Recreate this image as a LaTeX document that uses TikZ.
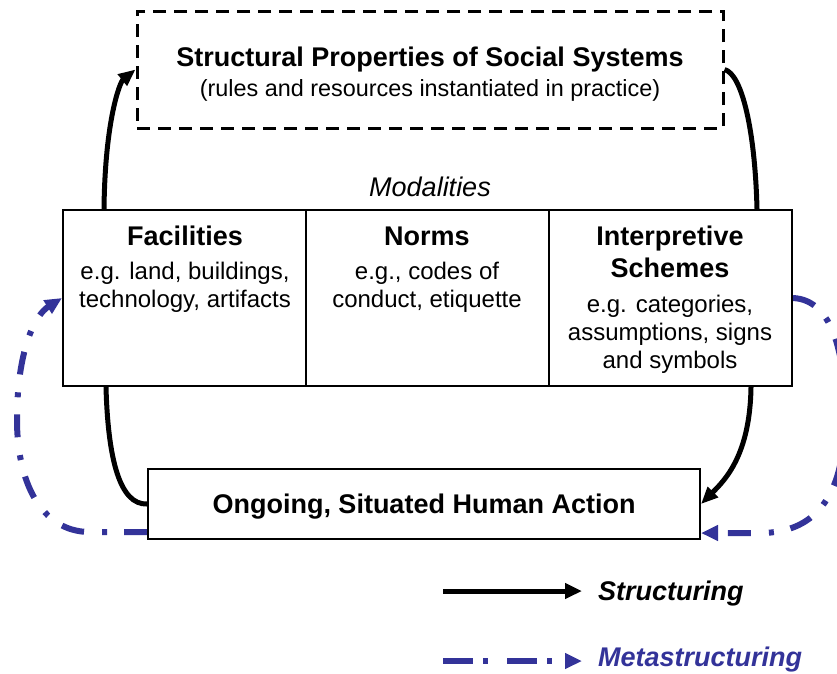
\documentclass[tikz,border=0pt]{standalone}
\usepackage{fontspec}
\setmainfont{Liberation Sans}
\usetikzlibrary{arrows.meta}
\definecolor{metablue}{RGB}{51,51,153}
\pgfdeclarelayer{background}
\pgfsetlayers{background,main}

\begin{document}
\begin{tikzpicture}[x=1pt,y=-1pt,
  headfont/.style={font=\fontsize{27}{32}\selectfont\bfseries},
  bodyfont/.style={font=\fontsize{24}{28}\selectfont},
  txt/.style={anchor=base, inner sep=0pt},
  cell/.style={draw=black, line width=2pt, fill=white, minimum width=243pt,
    minimum height=176pt, inner sep=0pt},
  framebox/.style={draw=black, line width=2pt, fill=white, inner sep=0pt},
  struct/.style={line width=5pt, -{Triangle[length=17pt,width=14pt]}},
  structline/.style={line width=5pt},
  meta/.style={draw=metablue, line width=6pt,
    dash pattern=on 23pt off 17pt on 5pt off 18pt,
    -{Triangle[length=17pt,width=15pt]}},
  metalegend/.style={draw=metablue, line width=6pt,
    dash pattern=on 30pt off 10pt on 5pt off 19pt,
    -{Triangle[length=17pt,width=15pt]}},
]
\useasboundingbox (0,0) rectangle (837,673);

% structural properties (dashed frame)
\node[framebox, line width=3pt, dash pattern=on 13pt off 8pt,
  minimum width=586pt, minimum height=117pt] (sps) at (430,69.5) {};
\node[txt, headfont] (spsT) at (430,66) {Structural Properties of Social Systems};
\node[txt, font=\fontsize{23.4}{28}\selectfont] (spsS) at (430,96) {(rules and resources instantiated in practice)};

% modalities
\node[txt, font=\fontsize{27}{32}\selectfont\itshape] (mod) at (430,196) {Modalities};
\node[cell] (fac) at (184.5,298) {};
\node[cell] (nor) at (427.5,298) {};
\node[cell] (int) at (670.5,298) {};

\node[txt, headfont] (facH) at (185,245) {Facilities};
\node[txt, bodyfont] (facA) at (185,279) {e.g. land, buildings,};
\node[txt, bodyfont] (facB) at (185,307) {technology, artifacts};

\node[txt, headfont] (norH) at (427,245) {Norms};
\node[txt, bodyfont] (norA) at (427,279) {e.g., codes of};
\node[txt, bodyfont] (norB) at (427,307) {conduct, etiquette};

\node[txt, headfont] (intH) at (670,245) {Interpretive};
\node[txt, headfont] (intH2) at (670,277) {Schemes};
\node[txt, bodyfont] (intA) at (670,312) {e.g. categories,};
\node[txt, bodyfont] (intB) at (670,340) {assumptions, signs};
\node[txt, bodyfont] (intC) at (670,368) {and symbols};

% human action
\node[framebox, minimum width=552pt, minimum height=70pt] (act) at (424,504) {};
\node[txt, headfont] (actT) at (424,513) {Ongoing, Situated Human Action};

% connectors
\begin{pgfonlayer}{background}
\draw[struct] ([xshift=42pt]fac.north west) .. controls (105,120) and (120,82) .. (sps.west);
\draw[structline] (sps.east) .. controls (742,74) and (755,130) .. ([xshift=-36pt]int.north east);
\draw[structline] ([xshift=44pt]fac.south west) .. controls (108,460) and (120,505) .. (act.west);
\draw[struct] ([xshift=-42pt]int.south east) .. controls (750,455) and (725,480) .. (act.east);

\draw[meta] ([yshift=-28pt]act.west) -- (90,532)
  .. controls (40,532) and (17,480) .. (17,420)
  .. controls (17,350) and (35,315) .. (fac.west);
\draw[meta] (int.east) .. controls (835,300) and (845,360) .. (845,415)
  .. controls (845,490) and (820,533) .. (760,533) -- ([yshift=-29pt]act.east);
\end{pgfonlayer}

% legend
\coordinate (s0) at (443,591);
\coordinate (s1) at (582,591);
\coordinate (m0) at (443,661);
\coordinate (m1) at (582,661);
\draw[line width=5pt, -{Triangle[length=17pt,width=15pt]}] (s0) -- (s1);
\draw[metalegend] (m0) -- (m1);
\node[inner sep=0pt, anchor=base west, font=\fontsize{27}{32}\selectfont\bfseries\itshape]
  (lstr) at (598,600) {Structuring};
\node[inner sep=0pt, anchor=base west, text=metablue,
  font=\fontsize{27}{32}\selectfont\bfseries\itshape]
  (lmeta) at (598,666) {Metastructuring};
\end{tikzpicture}
\end{document}
